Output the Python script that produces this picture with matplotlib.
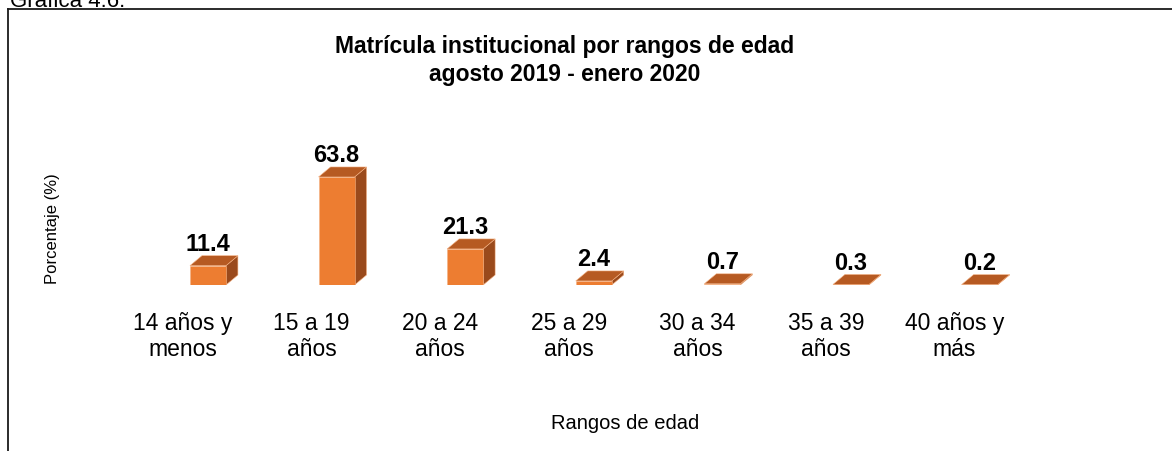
import matplotlib.pyplot as plt
from matplotlib.patches import Polygon
from matplotlib.lines import Line2D

categories = ['14 años y\nmenos', '15 a 19\naños', '20 a 24\naños', '25 a 29\naños',
              '30 a 34\naños', '35 a 39\naños', '40 años y\nmás']
values = [11.4, 63.8, 21.3, 2.4, 0.7, 0.3, 0.2]

plt.rcParams['font.family'] = ['Liberation Sans', 'DejaVu Sans']

front_color = '#ED7D31'
side_color = '#9A4A1C'
top_color = '#B65A22'

W, H = 1172, 452
fig = plt.figure(figsize=(W / 100, H / 100), dpi=100)

# axes placed so the bars sit where they do in the source
ax = fig.add_axes([118.7 / W, 1 - 286 / H, 900.2 / W, 125.3 / H])
ax.set_xlim(-0.5, 6.5)
ax.set_ylim(0, 74)
for s in ax.spines.values():
    s.set_visible(False)
ax.set_yticks([])

w = 0.28      # bar width
off = 0.194   # bars sit a bit right of the category label
dx = 0.093    # depth, x
dy = 5.9      # depth, y

xs = [i + off for i in range(len(values))]
ax.bar(xs, values, width=w, color=front_color, edgecolor='#F4B183', linewidth=0.4, zorder=3)
for x, v in zip(xs, values):
    x0, x1 = x - w / 2, x + w / 2
    side = Polygon([(x1, 0), (x1 + dx, dy), (x1 + dx, v + dy), (x1, v)],
                   closed=True, facecolor=side_color, edgecolor='#F4B183', linewidth=0.4, zorder=2)
    top = Polygon([(x0, v), (x1, v), (x1 + dx, v + dy), (x0 + dx, v + dy)],
                  closed=True, facecolor=top_color, edgecolor='#F4B183', linewidth=0.4, zorder=4)
    ax.add_patch(side)
    ax.add_patch(top)
    ax.annotate(f'{v:.1f}', (x, v), xytext=(0, 11.5), textcoords='offset points',
                ha='center', va='baseline', fontsize=17, fontweight='bold', annotation_clip=False)

ax.set_xticks(range(len(categories)))
ax.set_xticklabels(categories, fontsize=16.5, linespacing=1.15)
ax.tick_params(axis='x', length=0, pad=19)

# titles and axis labels
fig.text(565 / W, 1 - 47 / H, 'Matrícula institucional por rangos de edad',
         ha='center', va='center', fontsize=16.5, fontweight='bold')
fig.text(565 / W, 1 - 75 / H, 'agosto 2019 - enero 2020',
         ha='center', va='center', fontsize=16.5, fontweight='bold')
fig.text(625 / W, 1 - 424 / H, 'Rangos de edad', ha='center', va='center', fontsize=14.5)
fig.text(52 / W, 1 - 229 / H, 'Porcentaje (%)', ha='center', va='center',
         rotation=90, fontsize=12)

# caption cut off at the top edge, as in the source
fig.text(10 / W, 1 - 7 / H, 'Gráfica 4.6.', ha='left', va='baseline', fontsize=16)

# frame around the chart (runs off the right and bottom)
fx = 8 / W
fy = 1 - 10 / H
fig.add_artist(Line2D([fx, 1], [fy, fy], transform=fig.transFigure, color='#1a1a1a', linewidth=1.3))
fig.add_artist(Line2D([fx, fx], [0, fy], transform=fig.transFigure, color='#1a1a1a', linewidth=1.3))

fig.savefig('out.png', dpi=100)
